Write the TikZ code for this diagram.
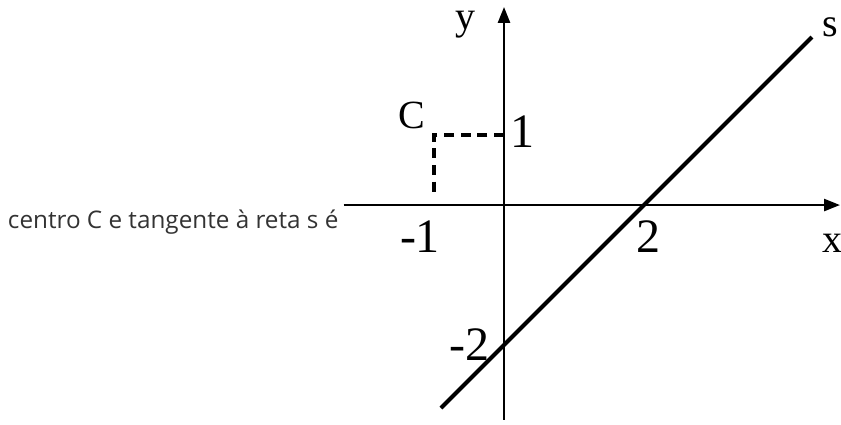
\documentclass[tikz,border=0pt]{standalone}
\usepackage{fontspec}
\setmainfont{Liberation Serif}
\newfontfamily\opensans{Open Sans}
\usetikzlibrary{arrows.meta}

\begin{document}
\begin{tikzpicture}[x=52.5pt, y=52.5pt,
    axis/.style={line width=1.9pt, -{Triangle[length=12pt,width=9pt]}},
    guide/.style={line width=2.6pt, dash pattern=on 7.5pt off 5pt},
    num/.style={inner sep=0pt, font=\fontsize{36}{36}\selectfont},
    lett/.style={inner sep=0pt, font=\fontsize{30}{30}\selectfont}]

     \useasboundingbox (-7.2,-3.129) rectangle (4.814,2.929);

     \coordinate (xl) at (-2.29,0);
     \coordinate (xr) at (4.8,0);
     \coordinate (yb) at (0,-3.07);
     \coordinate (yt) at (0,2.83);
     \coordinate (C) at (-1,1);
     \coordinate (Cy) at (0,1);
     \coordinate (Cx) at (-1,0.12);
     \coordinate (s0) at (-0.9,-2.9);
     \coordinate (s1) at (4.4,2.4);

     \draw [axis] (xl) -- (xr);
     \draw [axis] (yb) -- (yt);
     \draw [guide] (Cy) -- (C) -- (Cx);
     \draw [line width=3pt] (s0) -- (s1);

     \node (ylab) at (-0.557, 2.571) [lett] {y};
     \node (xlab) at (4.686, -0.543) [lett] {x};
     \node (slab) at (4.657, 2.543) [lett] {s};
     \node (clab) at (-1.314, 1.286) [lett] {C};
     \node (one) at (0.257, 1.043) [num] {1};
     \node (mone) at (-1.2, -0.457) [num] {-1};
     \node (two) at (2.057, -0.457) [num] {2};
     \node (mtwo) at (-0.486, -2.0) [num] {-2};

     \node (txt) at (-7.09, -0.24) [anchor=west, inner sep=0pt, text=black!80,
         font=\opensans\fontsize{18.2}{22}\selectfont] {centro C e tangente à reta s é};

\end{tikzpicture}
\end{document}
